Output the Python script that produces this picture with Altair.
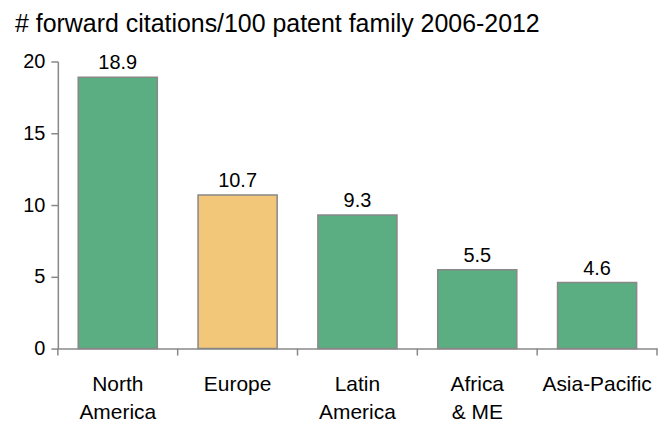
import altair as alt
import pandas as pd

regions = ["North\nAmerica", "Europe", "Latin\nAmerica", "Africa\n& ME", "Asia-Pacific"]
values = [18.9, 10.7, 9.3, 5.5, 4.6]
colors = ["#5BAE82", "#F3C77A", "#5BAE82", "#5BAE82", "#5BAE82"]
y_ticks = [0, 5, 10, 15, 20]
boundaries = [0, 1, 2, 3, 4, 5]
title_text = "# forward citations/100 patent family 2006-2012"

df = pd.DataFrame({"region": regions, "value": values, "color": colors})
FONT = "Liberation Sans"
W, H = 601, 288

x = alt.X("region:N", sort=regions,
          scale=alt.Scale(paddingInner=0.34, paddingOuter=0.17),
          axis=alt.Axis(title=None, labelAngle=0, labelFontSize=21, labelFont=FONT,
                        labelColor="#000000", labelExpr="split(datum.label, '\\n')",
                        labelLineHeight=28, labelPadding=25, ticks=False,
                        domainColor="#888888", domainWidth=1.5, labelBaseline="top"))
y = alt.Y("value:Q", scale=alt.Scale(domain=[0, 20], nice=False),
          axis=alt.Axis(title=None, values=y_ticks, labelFontSize=20, labelFont=FONT,
                        labelColor="#000000", grid=False, tickSize=7, labelPadding=6,
                        tickColor="#888888", domainColor="#888888", domainWidth=1.5,
                        tickWidth=1.5))

bars = alt.Chart(df).mark_bar(stroke="#888888", strokeWidth=1.5).encode(
    x=x, y=y, color=alt.Color("color:N", scale=None))
labels = alt.Chart(df).mark_text(baseline="alphabetic", dy=-8, fontSize=20, font=FONT,
                                 color="#000000").encode(
    x=alt.X("region:N", sort=regions), y="value:Q", text=alt.Text("value:Q", format=".1f"))
main = alt.layer(bars, labels)

xticks = alt.Chart(pd.DataFrame({"b": boundaries})).mark_rule(
    color="#888888", strokeWidth=1.5).encode(
    x=alt.X("b:Q", scale=alt.Scale(domain=[0, 5], nice=False), axis=None),
    y=alt.value(H), y2=alt.value(H + 7))
title = alt.Chart(pd.DataFrame({"t": [title_text]})).mark_text(
    align="left", baseline="alphabetic", fontSize=25, font=FONT, color="#000000").encode(
    x=alt.value(-43), y=alt.value(-30), text="t:N")
deco = alt.layer(xticks, title)

chart = alt.layer(main, deco).resolve_scale(x="independent").properties(
    width=W, height=H,
    autosize=alt.AutoSizeParams(type="none"),
    padding={"left": 50, "top": 53, "right": 2, "bottom": 76},
).configure_view(stroke=None)

chart.save("out.html", embed_options={"renderer": "svg", "actions": False})
